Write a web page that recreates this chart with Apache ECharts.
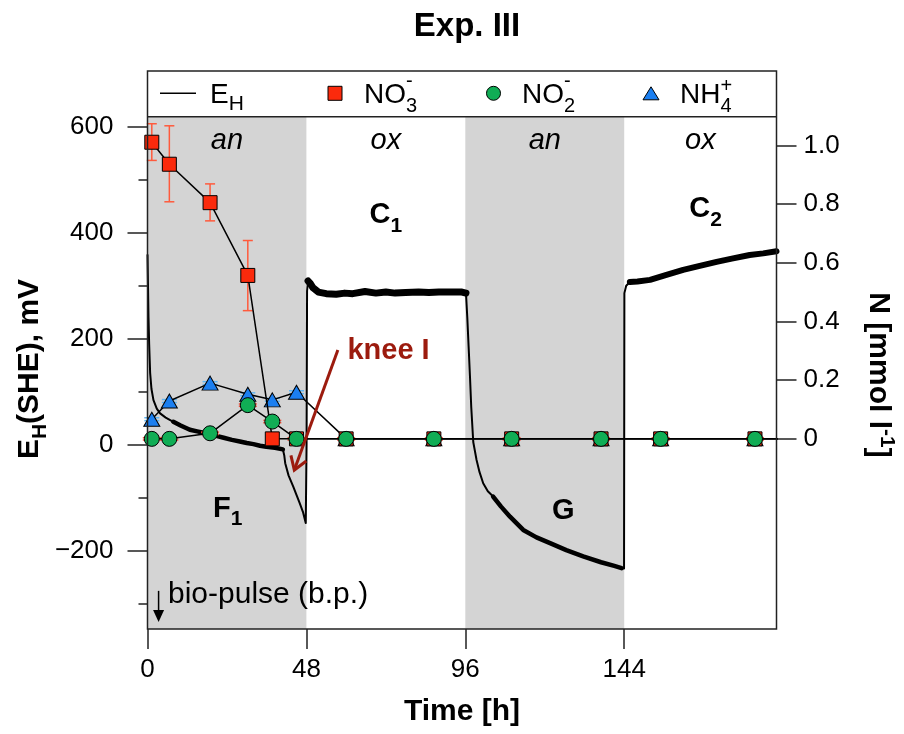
<!DOCTYPE html>
<html>
<head>
<meta charset="utf-8">
<title>Exp. III</title>
<script src="https://cdn.jsdelivr.net/npm/echarts@6/dist/echarts.min.js"></script>
<style>
  html, body { margin: 0; padding: 0; background: #fff; }
  #chart { width: 904px; height: 734px; }
</style>
</head>
<body>
<div id="chart"></div>
<script>
// ---- Redox potential E_H (mV vs SHE) over time [h] ----
const ehTime = [
  0, 0.15, 0.3, 0.5, 0.8, 1.2, 1.8, 2.8, 3.8, 5.5, 7.8, 10, 12.8, 15, 17.9, 20.5, 23, 25.5, 27.9, 30,
  32, 34, 35.9, 38.5, 40.9, 41.3, 41.6, 42.6, 44, 45, 46, 47, 47.8, 48.05, 48.2, 48.5, 49.2, 50, 51.6,
  54, 57, 59.6, 62, 65.7, 69, 72, 74.8, 78, 81.9, 85, 88, 91, 95, 96.2, 96.6, 97.0, 97.4, 97.8, 98.4,
  99.4, 100.3, 101.4, 102.8, 104.4, 106.8, 109.5, 113.5, 117.5, 121.6, 126.5, 131.6, 137, 141, 143.2,
  143.95, 144.05, 144.6, 145.7, 148, 151.8, 156.5, 161.8, 166.5, 171.9, 176.5, 181.9, 186, 190
];
const ehValue = [
  358, 300, 240, 190, 135, 105, 84, 68, 59, 51, 43, 36, 28, 25, 21, 17, 13, 9, 6, 3,
  1, -2, -4, -6, -9, -20, -35, -58, -79, -95, -111, -128, -148, 0, 290, 309, 304, 296, 288,
  285, 284, 286, 285, 289, 286, 288, 286, 287, 288, 287, 288, 288, 288, 286, 240, 185, 130, 70, 5,
  -29, -52, -73, -88, -98, -117, -136, -161, -175, -186, -199, -211, -222, -229, -233,
  -234, 286, 300, 307, 308, 311, 320, 330, 337, 345, 351, 358, 361, 365
];

// ---- Dissolved nitrogen species, mmol/l ----
const sampleTime = [1.3, 6.6, 18.9, 30.3, 37.7, 45, 60, 86.5, 110, 137, 155, 183.5, 196];
const no3Value = [1.011, 0.936, 0.805, 0.557, 0, 0, 0, 0, 0, 0, 0, 0, 0];
const no3Low   = [0.949, 0.808, 0.743, 0.437];
const no3High  = [1.074, 1.067, 0.869, 0.676];
const no2Value = [0, 0, 0.019, 0.115, 0.059, 0, 0, 0, 0, 0, 0, 0, 0];
const no2Err   = [0.004, 0.004, 0.004, 0.004, 0.004, 0.004, 0.004, 0.004, 0.004, 0.004, 0.004, 0.004];
const nh4Value = [0.067, 0.129, 0.190, 0.152, 0.133, 0.159, 0, 0, 0, 0, 0, 0, 0];
const nh4Err   = [0.005, 0.005, 0.005, 0.005, 0.005, 0.005];

// ---- Phases and axis ticks ----
const phaseStart = [0, 48, 96, 144];
const phaseEnd   = [48, 96, 144, 190];
const phaseName  = ['an', 'ox', 'an', 'ox'];
const xTicks = [0, 48, 96, 144];
const ehTicks = [-200, 0, 200, 400, 600];
const ehMinorTicks = [-300, -100, 100, 300, 500];
const nTicks = [0, 0.2, 0.4, 0.6, 0.8, 1.0];

// ---- styling / layout ----
const FONT = '"Liberation Sans", Arial, Helvetica, sans-serif';
const C_NO3 = '#fb2a0c', C_NO3_ERR = '#ff5a3c';
const C_NO2 = '#10ad55';
const C_NH4 = '#1b7ff0', C_NH4_ERR = '#63b6f2';
const C_KNEE = '#9c1b0e';
const GRID = { left: 147.5, right: 127.5, top: 116.7, bottom: 105 };
const FRAME_TOP = 71;

// E_H trace drawn piecewise: thin where it changes fast, a heavier band where the signal is noisy
const ehSegments = [
  { from: 0, to: 7.8, width: 2 },
  { from: 7.8, to: 40.9, width: 4.5 },
  { from: 40.9, to: 48.5, width: 2 },
  { from: 48.5, to: 96.2, width: 7 },
  { from: 96.2, to: 104.4, width: 2 },
  { from: 104.4, to: 143.2, width: 4.5 },
  { from: 143.2, to: 145.7, width: 2 },
  { from: 145.7, to: 190, width: 6 }
];

const ehPairs = ehTime.map((t, i) => [t, ehValue[i]]);
const zip = (vals) => sampleTime.map((t, i) => [t, vals[i]]);

const no3Rows = no3Low.map((lo, i) => [sampleTime[i], lo, no3High[i]]);
const no2Rows = no2Err.map((e, i) => [sampleTime[i], no2Value[i] - e, no2Value[i] + e]);
const nh4Rows = nh4Err.map((e, i) => [sampleTime[i], nh4Value[i] - e, nh4Value[i] + e]);

function errorBarSeries(rows, color, capW, z) {
  return {
    type: 'custom', yAxisIndex: 1, z: z, silent: true, data: rows,
    encode: { x: 0, y: [1, 2] },
    renderItem(params, api) {
      const t = api.value(0);
      const top = api.coord([t, api.value(2)]);
      const bot = api.coord([t, api.value(1)]);
      const s = { stroke: color, lineWidth: 1.5 };
      return {
        type: 'group', children: [
          { type: 'line', shape: { x1: top[0], y1: top[1], x2: bot[0], y2: bot[1] }, style: s },
          { type: 'line', shape: { x1: top[0] - capW / 2, y1: top[1], x2: top[0] + capW / 2, y2: top[1] }, style: s },
          { type: 'line', shape: { x1: bot[0] - capW / 2, y1: bot[1], x2: bot[0] + capW / 2, y2: bot[1] }, style: s }
        ]
      };
    }
  };
}

const speciesLine = (data, symbol, size, color, z) => ({
  type: 'line', yAxisIndex: 1, data: data, z: z, silent: true,
  symbol: symbol, symbolSize: size, showSymbol: true, showAllSymbol: true, clip: true,
  itemStyle: { color: color, borderColor: '#000', borderWidth: 1 },
  lineStyle: { color: '#000', width: 1.5 }
});

const tickLabel = { color: '#000', fontSize: 26, fontFamily: FONT };

const anBands = phaseStart.map((s, i) => [s, phaseEnd[i], phaseName[i]]).filter(b => b[2] === 'an').map(b => [b[0], b[1]]);

const option = {
  animation: false,
  backgroundColor: '#fff',
  grid: { left: GRID.left, right: GRID.right, top: GRID.top, bottom: GRID.bottom, show: false },
  xAxis: {
    type: 'value', min: 0, max: 190, interval: 48,
    axisLine: { show: false, onZero: false },
    axisTick: { show: true, length: 20, customValues: xTicks, lineStyle: { color: '#222', width: 1.5 } },
    axisLabel: Object.assign({ customValues: xTicks, margin: 28 }, tickLabel),
    splitLine: { show: false },
    name: 'Time [h]', nameLocation: 'middle', nameGap: 68,
    nameTextStyle: { color: '#000', fontSize: 30, fontWeight: 'bold', fontFamily: FONT }
  },
  yAxis: [
    {
      type: 'value', position: 'left', min: -348, max: 619,
      axisLine: { show: false, onZero: false },
      axisTick: { show: true, length: 20, customValues: ehTicks, lineStyle: { color: '#222', width: 1.5 } },
      axisLabel: Object.assign({
        customValues: ehTicks, margin: 34,
        formatter: v => (v < 0 ? '\u2212' + Math.abs(v) : String(v))
      }, tickLabel),
      splitLine: { show: false }
    },
    {
      type: 'value', position: 'right', min: -0.648, max: 1.098,
      axisLine: { show: false, onZero: false },
      axisTick: { show: true, length: 20, customValues: nTicks, lineStyle: { color: '#222', width: 1.5 } },
      axisLabel: Object.assign({
        customValues: nTicks, margin: 27,
        formatter: v => (Math.abs(v) < 1e-9 ? '0' : v.toFixed(1))
      }, tickLabel),
      splitLine: { show: false }
    },
    {
      // minor ticks of the E_H axis
      type: 'value', position: 'left', min: -348, max: 619,
      axisLine: { show: false, onZero: false },
      axisTick: { show: true, length: 9, customValues: ehMinorTicks, lineStyle: { color: '#222', width: 1.5 } },
      axisLabel: { show: false },
      splitLine: { show: false }
    }
  ],
  series: [
    {
      type: 'custom', z: 0, silent: true, data: anBands, encode: { x: [0, 1] },
      renderItem(params, api) {
        const a = api.coord([api.value(0), 0]);
        const b = api.coord([api.value(1), 0]);
        const cs = params.coordSys;
        return { type: 'rect', shape: { x: a[0], y: cs.y, width: b[0] - a[0], height: cs.height }, style: { fill: '#d4d4d4' } };
      }
    }
  ].concat(ehSegments.map(s => ({
    type: 'line', yAxisIndex: 0, silent: true, z: 3,
    data: ehPairs.filter(p => p[0] >= s.from && p[0] <= s.to),
    symbol: 'none', showSymbol: false,
    lineStyle: { color: '#000', width: s.width, cap: 'round', join: 'round' }
  }))).concat([
    errorBarSeries(no3Rows, C_NO3_ERR, 10, 4),
    errorBarSeries(no2Rows, '#f0503a', 18, 4),
    errorBarSeries(nh4Rows, C_NH4_ERR, 15, 4),
    speciesLine(zip(nh4Value), 'triangle', [16, 14], C_NH4, 5),
    speciesLine(zip(no3Value), 'rect', 14, C_NO3, 6),
    speciesLine(zip(no2Value), 'circle', 15, C_NO2, 7)
  ])
};

const chart = echarts.init(document.getElementById('chart'), null, { renderer: 'canvas', width: 904, height: 734 });
chart.setOption(option);

// ---- text helpers ----
const mctx = document.createElement('canvas').getContext('2d');
function fontStr(p) {
  return (p.italic ? 'italic ' : '') + (p.bold ? 'bold ' : '') + p.size + 'px ' + FONT;
}
function widthOf(p) { mctx.font = fontStr(p); return mctx.measureText(p.s).width; }
// one text element placed by its baseline
function textAt(x, baseline, p, align) {
  return {
    type: 'text', x: x, y: baseline - 0.3465 * p.size, silent: true,
    style: {
      text: p.s, font: fontStr(p), fill: p.color || '#000',
      align: align || 'left', textAlign: align || 'left',
      verticalAlign: 'middle', textVerticalAlign: 'middle'
    }
  };
}
// a run of text pieces on one baseline; a piece may stack a superscript over a subscript
function run(pieces, x0, baseline, align) {
  const widths = pieces.map(p => p.stack ? Math.max.apply(null, p.stack.map(widthOf)) : widthOf(p));
  const total = widths.reduce((a, b) => a + b, 0);
  let x = align === 'center' ? x0 - total / 2 : x0;
  const out = [];
  pieces.forEach((p, i) => {
    (p.stack || [p]).forEach(q => out.push(textAt(x, baseline + (q.dy || 0), q)));
    x += widths[i];
  });
  return out;
}

const px = (t, v) => chart.convertToPixel({ seriesIndex: 1 }, [t, v]);
const g = [];

// plot frame including the legend strip
const right = 904 - GRID.right, bottom = 734 - GRID.bottom;
g.push({ type: 'rect', silent: true, z: 50, shape: { x: GRID.left, y: FRAME_TOP, width: right - GRID.left, height: bottom - FRAME_TOP },
  style: { fill: 'none', stroke: '#222', lineWidth: 1.5 } });
g.push({ type: 'line', silent: true, z: 50, shape: { x1: GRID.left, y1: GRID.top, x2: right, y2: GRID.top },
  style: { stroke: '#222', lineWidth: 1.5 } });

// legend
const LY = 93.3, LB = 105;
g.push({ type: 'line', silent: true, shape: { x1: 160, y1: LY, x2: 196, y2: LY }, style: { stroke: '#000', lineWidth: 1.5 } });
g.push(...run([{ s: 'E', size: 28 }, { s: 'H', size: 21, dy: 6 }], 210, LB));
g.push({ type: 'rect', silent: true, shape: { x: 335 - 7, y: LY - 7, width: 14, height: 14 }, style: { fill: C_NO3, stroke: '#000', lineWidth: 1 } });
g.push(...run([{ s: 'NO', size: 28 }, { stack: [{ s: '-', size: 20, dy: -17 }, { s: '3', size: 20, dy: 8 }] }], 364, LB));
g.push({ type: 'circle', silent: true, shape: { cx: 493.5, cy: LY, r: 7 }, style: { fill: C_NO2, stroke: '#000', lineWidth: 1 } });
g.push(...run([{ s: 'NO', size: 28 }, { stack: [{ s: '-', size: 20, dy: -17 }, { s: '2', size: 20, dy: 8 }] }], 522, LB));
g.push({ type: 'polygon', silent: true, shape: { points: [[651, LY - 6.5], [659, LY + 6.5], [643, LY + 6.5]] }, style: { fill: C_NH4, stroke: '#000', lineWidth: 1 } });
g.push(...run([{ s: 'NH', size: 28 }, { stack: [{ s: '+', size: 20, dy: -12 }, { s: '4', size: 20, dy: 8 }] }], 680, LB));

// title
g.push(textAt(467, 38, { s: 'Exp. III', size: 33, bold: true }, 'center'));

// phase labels
phaseName.forEach((name, i) => {
  const p = px((phaseStart[i] + phaseEnd[i]) / 2, 573);
  g.push(textAt(p[0], p[1] + 0.3465 * 29, { s: name, size: 29, italic: true }, 'center'));
});

// stage labels
function stage(t, v, main, sub, dy) {
  const p = px(t, v);
  const pieces = [{ s: main, size: 29, bold: true }];
  if (sub) pieces.push({ s: sub, size: 21, bold: true, dy: dy });
  g.push(...run(pieces, p[0], p[1], 'center'));
}
stage(72, 414, 'C', '1', 8);
stage(168.6, 425, 'C', '2', 8);
stage(24.2, -140.4, 'F', '1', 7);
stage(125.6, -144, 'G');

// knee annotation
const kp = px(60.4, 158.4);
g.push(textAt(kp[0], kp[1], { s: 'knee I', size: 29, bold: true, color: C_KNEE }));
const a0 = px(57.5, 178.7), a1 = px(44.35, -48);
g.push({ type: 'line', silent: true, z: 20, shape: { x1: a0[0], y1: a0[1], x2: a1[0], y2: a1[1] }, style: { stroke: C_KNEE, lineWidth: 3 } });
(function () {
  const dx = a0[0] - a1[0], dy = a0[1] - a1[1], L = Math.hypot(dx, dy);
  const ux = dx / L, uy = dy / L, ang = 33 * Math.PI / 180, len = 15;
  const rot = (c, s) => [a1[0] + len * (ux * c - uy * s), a1[1] + len * (ux * s + uy * c)];
  const b1 = rot(Math.cos(ang), Math.sin(ang)), b2 = rot(Math.cos(-ang), Math.sin(-ang));
  g.push({ type: 'polyline', silent: true, z: 20, shape: { points: [b1, a1, b2] }, style: { stroke: C_KNEE, lineWidth: 3, fill: 'none' } });
})();

// bio-pulse marker
const bp = px(6.2, -302.6);
g.push(textAt(bp[0], bp[1], { s: 'bio-pulse (b.p.)', size: 30 }));
const ba = px(3.35, -276), bb = px(3.35, -335);
g.push({ type: 'line', silent: true, z: 20, shape: { x1: ba[0], y1: ba[1], x2: bb[0], y2: bb[1] - 8 }, style: { stroke: '#000', lineWidth: 1.5 } });
g.push({ type: 'polygon', silent: true, z: 20, shape: { points: [[bb[0] - 5.5, bb[1] - 12], [bb[0] + 5.5, bb[1] - 12], [bb[0], bb[1]]] }, style: { fill: '#000' } });

// rotated axis titles
const lt = run([{ s: 'E', size: 30, bold: true }, { s: 'H', size: 21, bold: true, dy: 7 }, { s: '(SHE), mV', size: 30, bold: true }], 0, 11, 'center');
g.push({ type: 'group', x: 29, y: 369, rotation: Math.PI / 2, children: lt });
const rt = run([{ s: 'N [mmol l', size: 30, bold: true }, { s: '-1', size: 21, bold: true, dy: -12 }, { s: ']', size: 30, bold: true }], 0, 11, 'center');
g.push({ type: 'group', x: 879, y: 375, rotation: -Math.PI / 2, children: rt });

chart.setOption({ graphic: g });
</script>
</body>
</html>
